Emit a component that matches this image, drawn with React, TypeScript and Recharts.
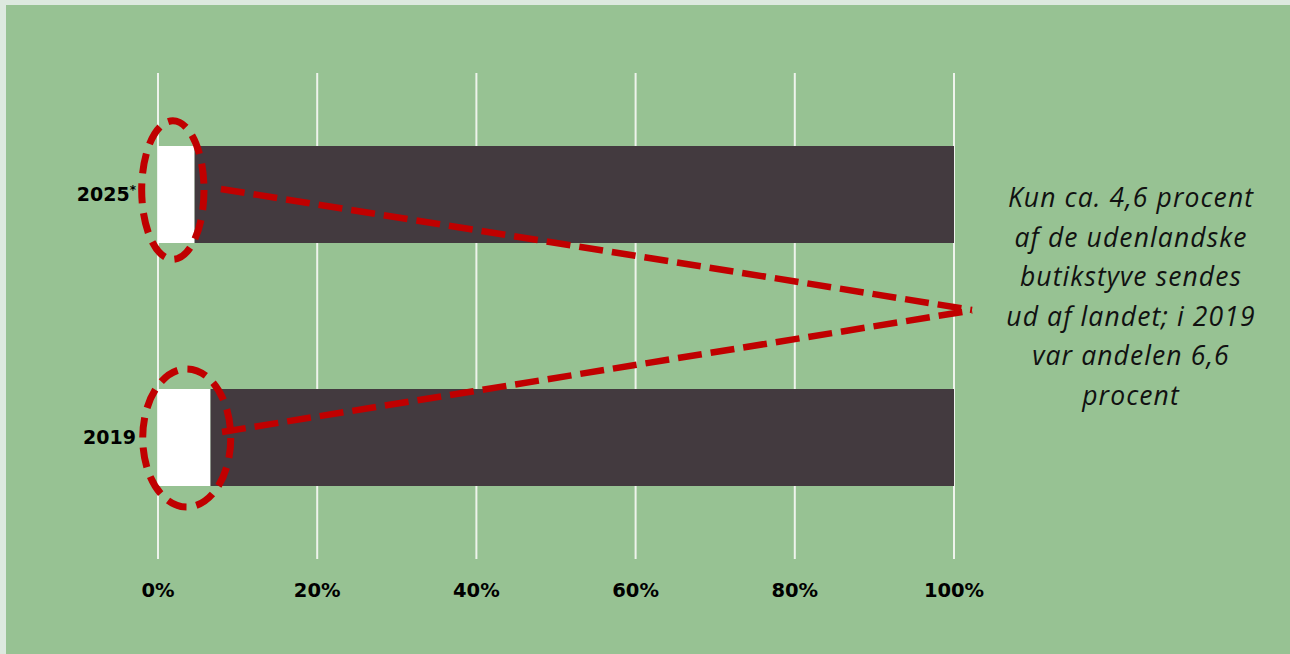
import React from "react";
import { BarChart, Bar, XAxis, YAxis, CartesianGrid } from "recharts";

// ---- data ----
const categories = ["2025*", "2019"];
const abroadShare = [4.6, 6.6]; // % sent out of the country
const restShare = [95.4, 93.4]; // remaining share
const xTicks = [0, 20, 40, 60, 80, 100];

// annotation geometry: x in percent (data units), y in bar-heights relative to the bar centre
const ellipseX1 = [-2.05, -1.92];
const ellipseX2 = [5.78, 9.14];
const ellipseCy = [-0.046, 0.005];
const ellipseRy = [0.714, 0.712];
const lineStartX = [7.9, 8.04];
const lineStartY = [-0.057, -0.057];
const lineEndX = [102.26, 102.26];
const lineEndY = [1.19, -1.31];

const noteLines = [
  "Kun ca. 4,6 procent",
  "af de udenlandske",
  "butikstyve sendes",
  "ud af landet; i 2019",
  "var andelen 6,6",
  "procent",
];

const data = categories.map((c, i) => ({
  year: c,
  abroad: abroadShare[i],
  rest: restShare[i],
}));

const RED = "#c00000";
const GREEN = "#97c293";
const DARK = "#433a3f";
const TICK_FONT = "'DejaVu Sans', sans-serif";

// dark bar + overlay annotation (ellipse around the white part, dashed pointer line)
const DarkBarWithNote = (props: any) => {
  const { x, y, width, height, index, payload } = props;
  const ppu = width / payload.rest; // pixels per percent
  const zeroX = x - payload.abroad * ppu;
  const cy = y + height / 2;
  const ex1 = zeroX + ellipseX1[index] * ppu;
  const ex2 = zeroX + ellipseX2[index] * ppu;
  return (
    <g>
      <rect x={x} y={y} width={width} height={height} fill={DARK} />
      <line
        x1={zeroX + lineStartX[index] * ppu}
        y1={cy + lineStartY[index] * height}
        x2={zeroX + lineEndX[index] * ppu}
        y2={cy + lineEndY[index] * height}
        stroke={RED}
        strokeWidth={6.5}
        strokeDasharray="24 9"
      />
      <ellipse
        cx={(ex1 + ex2) / 2}
        cy={cy + ellipseCy[index] * height}
        rx={(ex2 - ex1) / 2}
        ry={ellipseRy[index] * height}
        fill="none"
        stroke={RED}
        strokeWidth={7}
        strokeDasharray="20 10"
      />
    </g>
  );
};

const YTick = (props: any) => {
  const { x, y, payload } = props;
  const v: string = payload.value;
  const star = v.endsWith("*");
  const base = star ? v.slice(0, -1) : v;
  return (
    <text
      x={x}
      y={y}
      dy="0.36em"
      textAnchor="end"
      fontFamily={TICK_FONT}
      fontWeight="bold"
      fontSize={19}
      fill="#000"
    >
      {base}
      {star && (
        <tspan fontSize={12} dy="-0.6em">
          *
        </tspan>
      )}
    </text>
  );
};

export default function App() {
  return (
    <div
      style={{
        position: "absolute",
        left: 0,
        top: 0,
        width: 1290,
        height: 654,
        background: "#dde9df",
        overflow: "hidden",
      }}
    >
      <div
        style={{
          position: "absolute",
          left: 6,
          top: 5,
          width: 1284,
          height: 649,
          background: GREEN,
        }}
      />
      <div style={{ position: "absolute", left: 0, top: 0 }}>
        <BarChart
          width={1290}
          height={654}
          data={data}
          layout="vertical"
          margin={{ top: 73, right: 336, bottom: 55, left: 58 }}
          barSize={97}
        >
          <CartesianGrid
            horizontal={false}
            vertical={true}
            stroke="#eef3ec"
            strokeWidth={2}
          />
          <XAxis
            type="number"
            domain={[0, 100]}
            ticks={xTicks}
            tickFormatter={(v: number) => `${v}%`}
            axisLine={false}
            tickLine={false}
            tickSize={0}
            tickMargin={24}
            height={40}
            interval={0}
            tick={{
              fontFamily: TICK_FONT,
              fontWeight: "bold",
              fontSize: 19.5,
              fill: "#000",
            }}
          />
          <YAxis
            type="category"
            dataKey="year"
            axisLine={false}
            tickLine={false}
            tickSize={0}
            tickMargin={22}
            width={100}
            tick={<YTick />}
          />
          <Bar
            dataKey="abroad"
            stackId="s"
            fill="#ffffff"
            isAnimationActive={false}
          />
          <Bar
            dataKey="rest"
            stackId="s"
            fill={DARK}
            isAnimationActive={false}
            shape={<DarkBarWithNote />}
          />
        </BarChart>
      </div>
      <div
        style={{
          position: "absolute",
          left: 971,
          top: 178,
          width: 320,
          textAlign: "center",
          fontFamily: "'Open Sans', sans-serif",
          fontStyle: "italic",
          fontWeight: 400,
          fontSize: 26.5,
          letterSpacing: "1.1px",
          lineHeight: "39.6px",
          color: "#111",
        }}
      >
        {noteLines.map((l, i) => (
          <div key={i}>{l}</div>
        ))}
      </div>
    </div>
  );
}
